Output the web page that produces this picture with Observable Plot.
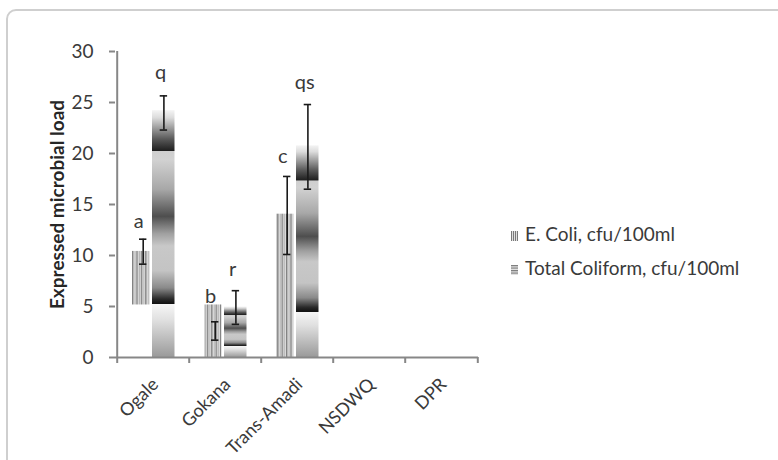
<!DOCTYPE html>
<html><head><meta charset="utf-8">
<script src="https://cdn.jsdelivr.net/npm/d3@7"></script>
<script src="https://cdn.jsdelivr.net/npm/@observablehq/plot@0.6"></script>
<style>
body{margin:0;width:778px;height:460px;overflow:hidden;background:#fff;font-family:Lato,sans-serif;position:relative}
#frame{position:absolute;left:6px;top:9px;width:820px;height:520px;border:2px solid #cfcfcf;border-radius:10px;box-sizing:border-box}
#chart{position:absolute;left:0;top:0}
.lg{position:absolute;left:511px;font-size:19px;color:#3a3a3a;white-space:nowrap;line-height:1}
.lg svg{vertical-align:baseline;margin-right:7px}
</style></head><body>
<div id="frame"></div>
<div id="chart"></div>
<div class="lg" style="top:224px"><svg width="7" height="10"><rect width="7" height="10" fill="url(#lgStripeV)"/></svg>E. Coli, cfu/100ml</div>
<div class="lg" style="top:258px"><svg width="7" height="10"><rect width="7" height="10" fill="url(#lgStripeH)"/></svg>Total Coliform, cfu/100ml</div>
<svg width="0" height="0" style="position:absolute">
<defs>
<pattern id="lgStripeV" patternUnits="userSpaceOnUse" width="2" height="10"><rect width="2" height="10" fill="#e0e0e0"/><rect width="1" height="10" fill="#7a7a7a"/></pattern>
<pattern id="lgStripeH" patternUnits="userSpaceOnUse" width="8" height="2.5"><rect width="8" height="2.5" fill="#e6e6e6"/><rect width="8" height="1.2" fill="#7a7a7a"/></pattern>
</defs></svg>
<script>
const categories = ["Ogale", "Gokana", "Trans-Amadi", "NSDWQ", "DPR"];
const seriesNames = ["E. Coli, cfu/100ml", "Total Coliform, cfu/100ml"];
const yTicks = [0, 5, 10, 15, 20, 25, 30];

const ecoli = [10.4, 5.15, 14.05, 0, 0];
const ecoliBase = [5.15, 0, 0, 0, 0];
const ecoliLow = [9.15, 1.7, 10.1, null, null];
const ecoliHigh = [11.6, 3.5, 17.75, null, null];
const ecoliLetters = ["a", "b", "c", "", ""];
const ecoliLetterY = [12.7, 5.35, 19.1, 0, 0];

const coliform = [24.2, 4.95, 20.75, 0, 0];
const coliformLow = [22.3, 3.25, 16.5, null, null];
const coliformHigh = [25.65, 6.55, 24.8, null, null];
const coliformLetters = ["q", "r", "qs", "", ""];
const coliformLetterY = [27.3, 8.0, 26.3, 0, 0];

const ecoliRows = categories.map((c, i) => ({cat: c, base: ecoliBase[i], value: ecoli[i], low: ecoliLow[i], high: ecoliHigh[i], letter: ecoliLetters[i], ly: ecoliLetterY[i]}));
const coliRows = categories.map((c, i) => ({cat: c, base: 0, value: coliform[i], low: coliformLow[i], high: coliformHigh[i], letter: coliformLetters[i], ly: coliformLetterY[i]}));
const errE = ecoliRows.filter(d => d.low != null);
const errC = coliRows.filter(d => d.low != null);

const W = 778, H = 460, ML = 115, MR = 300, MT = 51, MB = 103;
const step = (W - ML - MR) / categories.length;
const axisColor = "#878787", textColor = "#3a3a3a";

const chart = Plot.plot({
  width: W, height: H,
  marginLeft: ML, marginRight: MR, marginTop: MT, marginBottom: MB,
  style: {fontFamily: "Lato, sans-serif", background: "none", overflow: "visible"},
  x: {domain: categories, padding: 0, label: null, axis: null},
  y: {domain: [0, 30], label: null, axis: null},
  marks: [
    Plot.barY(ecoliRows.filter(d => d.value > 0), {x: "cat", y1: "base", y2: "value", fill: "url(#ecoliPat)", insetLeft: 15, insetRight: step - 33}),
    Plot.barY(coliRows.filter(d => d.value > 0), {x: "cat", y1: "base", y2: "value", fill: "url(#coliGrad)", insetLeft: 35, insetRight: 14.5}),
    Plot.ruleX(errE, {x: "cat", y1: "low", y2: "high", dx: 26 - step / 2, stroke: "#1a1a1a", strokeWidth: 1.6}),
    Plot.tickY(errE, {x: "cat", y: "low", insetLeft: 22, insetRight: step - 30, stroke: "#1a1a1a", strokeWidth: 1.6}),
    Plot.tickY(errE, {x: "cat", y: "high", insetLeft: 22, insetRight: step - 30, stroke: "#1a1a1a", strokeWidth: 1.6}),
    Plot.ruleX(errC, {x: "cat", y1: "low", y2: "high", dx: 46.7 - step / 2, stroke: "#1a1a1a", strokeWidth: 1.6}),
    Plot.tickY(errC, {x: "cat", y: "low", insetLeft: 42.7, insetRight: step - 50.7, stroke: "#1a1a1a", strokeWidth: 1.6}),
    Plot.tickY(errC, {x: "cat", y: "high", insetLeft: 42.7, insetRight: step - 50.7, stroke: "#1a1a1a", strokeWidth: 1.6}),
    Plot.text(ecoliRows.filter(d => d.letter), {x: "cat", y: "ly", text: "letter", dx: 21.5 - step / 2, lineAnchor: "bottom", fontSize: 20, fill: textColor}),
    Plot.text(coliRows.filter(d => d.letter), {x: "cat", y: "ly", text: "letter", dx: 43.5 - step / 2, lineAnchor: "bottom", fontSize: 20, fill: textColor}),
    Plot.ruleY([0], {stroke: axisColor, strokeWidth: 2}),
    Plot.ruleX([categories[0]], {dx: -step / 2, stroke: axisColor, strokeWidth: 2}),
    Plot.axisY({ticks: yTicks, tickSize: 6, tickPadding: 16, fontSize: 19, stroke: axisColor, strokeWidth: 2, fill: textColor, label: null}),
    Plot.axisX({ticks: categories, tickSize: 6, dx: -step / 2, tickFormat: () => "", stroke: axisColor, strokeWidth: 2, label: null}),
    Plot.axisX({ticks: [categories[categories.length - 1]], tickSize: 6, dx: step / 2, tickFormat: () => "", stroke: axisColor, strokeWidth: 2, label: null}),
    Plot.axisX({ticks: categories, tickSize: 0, tickPadding: 24, dx: 2, tickRotate: -45, fontSize: 18, fill: textColor, label: null}),
    Plot.text(["Expressed microbial load"], {frameAnchor: "left", rotate: -90, dx: -58, textAnchor: "middle", fontWeight: "bold", fontSize: 19, fill: "#262626"})
  ]
});

const ns = "http://www.w3.org/2000/svg";
const defs = document.createElementNS(ns, "defs");
defs.innerHTML = `
<pattern id="ecoliPat" patternUnits="userSpaceOnUse" x="0" y="0" width="4.4" height="10">
  <rect width="4.4" height="10" fill="#dcdcdc"/>
  <rect x="0" width="1.3" height="10" fill="#808080"/>
  <rect x="2.6" width="0.8" height="10" fill="#b0b0b0"/>
</pattern>
<linearGradient id="coliGrad" x1="0" y1="0" x2="0" y2="1">
  <stop offset="0" stop-color="#f4f4f4"/>
  <stop offset="0.03" stop-color="#dcdcdc"/>
  <stop offset="0.07" stop-color="#a0a0a0"/>
  <stop offset="0.12" stop-color="#555"/>
  <stop offset="0.165" stop-color="#1e1e1e"/>
  <stop offset="0.167" stop-color="#cfcfcf"/>
  <stop offset="0.20" stop-color="#d2d2d2"/>
  <stop offset="0.32" stop-color="#a8a8a8"/>
  <stop offset="0.43" stop-color="#4e4e4e"/>
  <stop offset="0.50" stop-color="#a0a0a0"/>
  <stop offset="0.55" stop-color="#c8c8c8"/>
  <stop offset="0.65" stop-color="#c4c4c4"/>
  <stop offset="0.72" stop-color="#8a8a8a"/>
  <stop offset="0.765" stop-color="#2a2a2a"/>
  <stop offset="0.785" stop-color="#111"/>
  <stop offset="0.787" stop-color="#f6f6f6"/>
  <stop offset="0.85" stop-color="#e0e0e0"/>
  <stop offset="1" stop-color="#9a9a9a"/>
</linearGradient>`;
chart.insertBefore(defs, chart.firstChild);
document.getElementById("chart").appendChild(chart);
</script>
</body></html>
